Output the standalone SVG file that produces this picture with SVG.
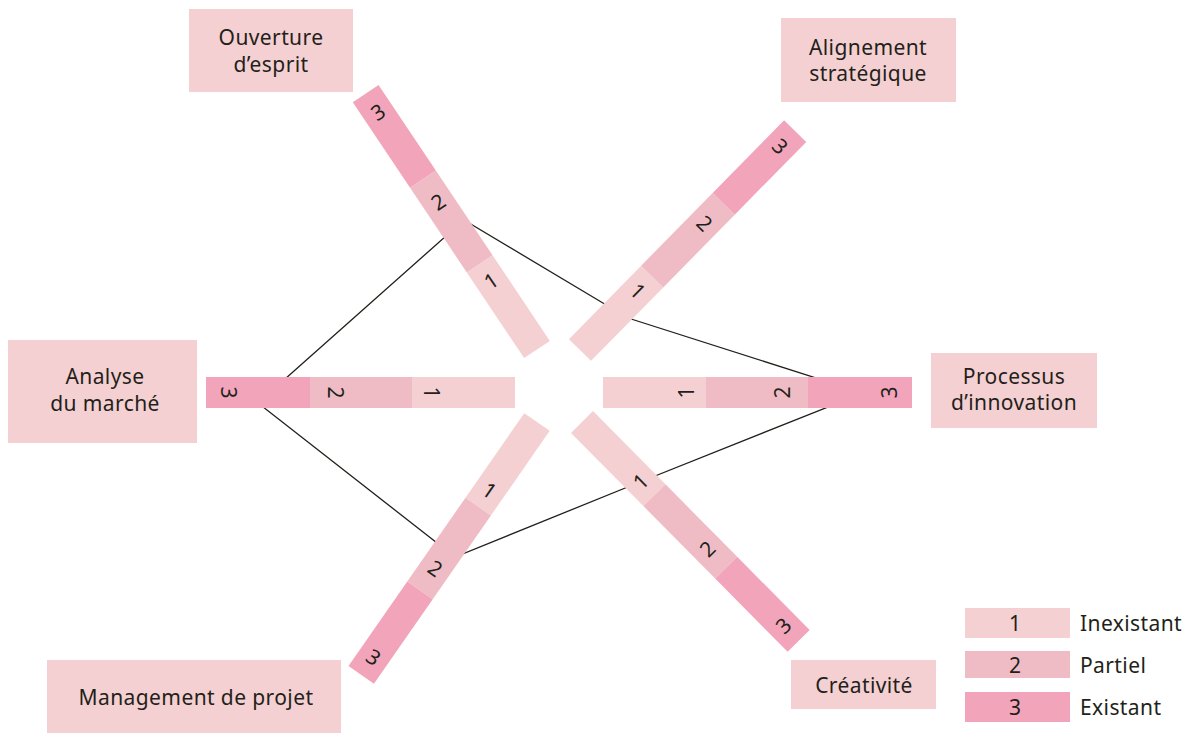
<svg xmlns="http://www.w3.org/2000/svg" width="1193" height="733" viewBox="0 0 1193 733">
<style>
text{font-family:"Noto Sans","Liberation Sans",sans-serif;font-size:21px;letter-spacing:0.4px;fill:#231F1A}
.lbl{text-anchor:middle}
.num{text-anchor:middle;dominant-baseline:central;letter-spacing:0}
.box{fill:#F5D0D2}
.s1{fill:#F5D0D2}
.s2{fill:#EFBCC6}
.s3{fill:#F2A5BA}
.link{fill:none;stroke:#231F1A;stroke-width:1.3}
</style>
<rect width="1193" height="733" fill="#FFFFFF"/>
<g id="connectors">
<polygon class="link" points="464,220 628,318 863,393 640,482 455,557 258,403"/>
</g>
<g id="bar-right" transform="translate(603,392.5) rotate(0)">
<rect class="s1" x="0" y="-15.5" width="103" height="31"/><rect class="s2" x="103" y="-15.5" width="102" height="31"/><rect class="s3" x="205" y="-15.5" width="104" height="31"/>
<text class="num" transform="translate(83,0) rotate(-90)">1</text><text class="num" transform="translate(179,0) rotate(-90)">2</text><text class="num" transform="translate(286,0) rotate(-90)">3</text>
</g>
<g id="bar-left" transform="translate(515,392.5) rotate(180)">
<rect class="s1" x="0" y="-15.5" width="103" height="31"/><rect class="s2" x="103" y="-15.5" width="102" height="31"/><rect class="s3" x="205" y="-15.5" width="104" height="31"/>
<text class="num" transform="translate(83,0) rotate(-90)">1</text><text class="num" transform="translate(179,0) rotate(-90)">2</text><text class="num" transform="translate(286,0) rotate(-90)">3</text>
</g>
<g id="bar-upper-left" transform="translate(537,349.5) rotate(-123.8)">
<rect class="s1" x="0" y="-15.5" width="103" height="31"/><rect class="s2" x="103" y="-15.5" width="102" height="31"/><rect class="s3" x="205" y="-15.5" width="103" height="31"/>
<text class="num" transform="translate(83,0) rotate(90)">1</text><text class="num" transform="translate(178,0) rotate(90)">2</text><text class="num" transform="translate(286,0) rotate(90)">3</text>
</g>
<g id="bar-upper-right" transform="translate(580,350) rotate(-45.5)">
<rect class="s1" x="0" y="-15.5" width="103" height="31"/><rect class="s2" x="103" y="-15.5" width="102" height="31"/><rect class="s3" x="205" y="-15.5" width="102" height="31"/>
<text class="num" transform="translate(83,0) rotate(90)">1</text><text class="num" transform="translate(178,0) rotate(90)">2</text><text class="num" transform="translate(286,0) rotate(90)">3</text>
</g>
<g id="bar-lower-left" transform="translate(537,422) rotate(124.8)">
<rect class="s1" x="0" y="-15.5" width="103" height="31"/><rect class="s2" x="103" y="-15.5" width="102" height="31"/><rect class="s3" x="205" y="-15.5" width="103" height="31"/>
<text class="num" transform="translate(83,0) rotate(-90)">1</text><text class="num" transform="translate(178,0) rotate(-90)">2</text><text class="num" transform="translate(286,0) rotate(-90)">3</text>
</g>
<g id="bar-lower-right" transform="translate(582,422) rotate(45.3)">
<rect class="s1" x="0" y="-15.5" width="103" height="31"/><rect class="s2" x="103" y="-15.5" width="102" height="31"/><rect class="s3" x="205" y="-15.5" width="103" height="31"/>
<text class="num" transform="translate(83,0) rotate(-90)">1</text><text class="num" transform="translate(178,0) rotate(-90)">2</text><text class="num" transform="translate(286,0) rotate(-90)">3</text>
</g>
<g id="node-ouverture">
<rect class="box" x="189" y="9" width="164" height="83"/>
<text class="lbl" x="271" y="45">Ouverture</text><text class="lbl" x="271" y="72">d’esprit</text>
</g>
<g id="node-alignement">
<rect class="box" x="781" y="18" width="175" height="84"/>
<text class="lbl" x="868" y="55">Alignement</text><text class="lbl" x="868" y="81">stratégique</text>
</g>
<g id="node-analyse">
<rect class="box" x="8" y="340" width="189" height="103"/>
<text class="lbl" x="105" y="384">Analyse</text><text class="lbl" x="105" y="411">du marché</text>
</g>
<g id="node-processus">
<rect class="box" x="931" y="353" width="166" height="75"/>
<text class="lbl" x="1014" y="384">Processus</text><text class="lbl" x="1014" y="410">d’innovation</text>
</g>
<g id="node-management">
<rect class="box" x="47" y="660" width="294" height="73"/>
<text class="lbl" x="196" y="705">Management de projet</text>
</g>
<g id="node-creativite">
<rect class="box" x="791" y="660" width="145" height="49"/>
<text class="lbl" x="864" y="693">Créativité</text>
</g>
<g id="legend">
<rect class="s1" x="965" y="608" width="105" height="30"/>
<rect class="s2" x="965" y="651" width="105" height="27"/>
<rect class="s3" x="965" y="692" width="105" height="30"/>
<text class="num" x="1015" y="623">1</text>
<text class="num" x="1015" y="665">2</text>
<text class="num" x="1015" y="707">3</text>
<text x="1080" y="631">Inexistant</text>
<text x="1080" y="673">Partiel</text>
<text x="1080" y="715">Existant</text>
</g>
</svg>
